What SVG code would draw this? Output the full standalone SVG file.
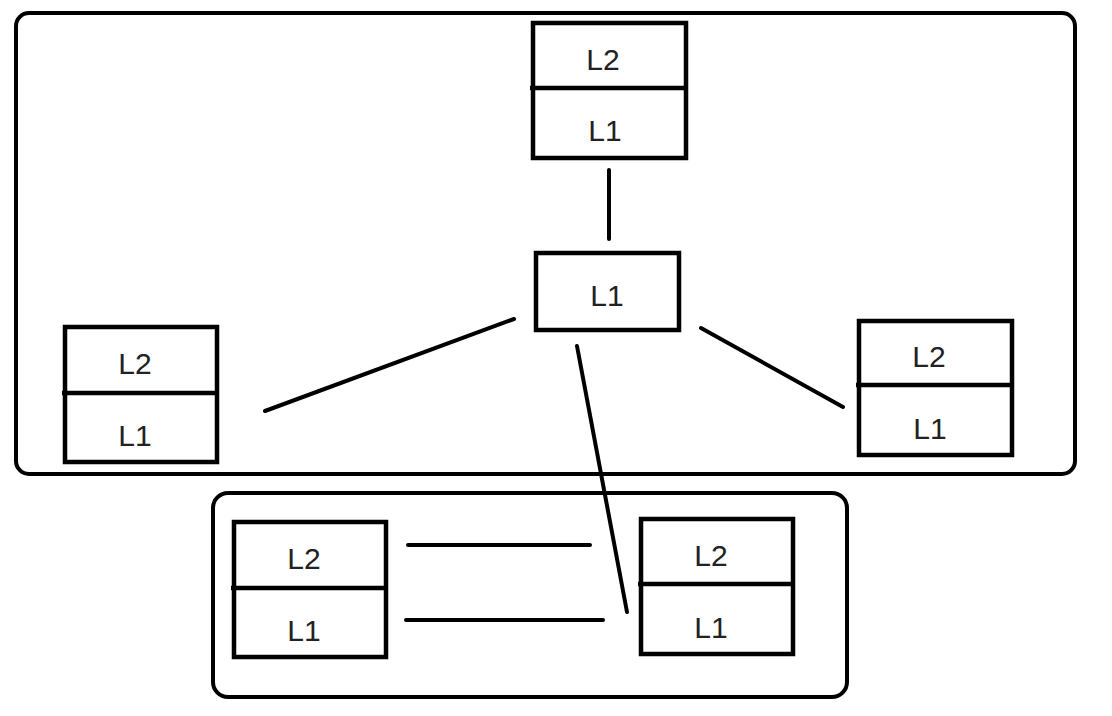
<svg xmlns="http://www.w3.org/2000/svg" width="1112" height="716" viewBox="0 0 1112 716">
<style>
.box{fill:none;stroke:#000;stroke-width:4.5}
.grp{fill:none;stroke:#000;stroke-width:4}
.div{stroke:#000;stroke-width:4.5}
.t{font-family:"Liberation Sans",Arial,sans-serif;font-size:30px;fill:#222;text-anchor:middle}
.c{stroke:#000;stroke-width:4;stroke-linecap:round}
</style>
<rect width="1112" height="716" fill="#fff"/>
<g id="group-top"><rect class="grp" x="16" y="13" width="1059" height="461" rx="13"/></g>
<g id="group-bottom"><rect class="grp" x="213" y="493" width="634" height="204" rx="15"/></g>
<g id="connectors">
<line class="c" x1="609" y1="170" x2="609" y2="239"/>
<line class="c" x1="514" y1="319" x2="265" y2="411"/>
<line class="c" x1="701" y1="328" x2="843" y2="407"/>
<line class="c" x1="577" y1="346" x2="627" y2="612"/>
<line class="c" x1="408" y1="545" x2="590" y2="545"/>
<line class="c" x1="406" y1="620" x2="603" y2="620"/>
</g>
<g id="node-top">
<rect class="box" x="533" y="23" width="153" height="135"/>
<line class="div" x1="530" y1="88" x2="686" y2="88"/>
<text class="t" x="603" y="70">L2</text>
<text class="t" x="605" y="141">L1</text>
</g>
<g id="node-center">
<rect class="box" x="536" y="253" width="143" height="77"/>
<text class="t" x="607" y="306">L1</text>
</g>
<g id="node-left">
<rect class="box" x="65" y="327" width="152" height="135"/>
<line class="div" x1="62" y1="393" x2="217" y2="393"/>
<text class="t" x="135" y="374">L2</text>
<text class="t" x="135" y="446">L1</text>
</g>
<g id="node-right">
<rect class="box" x="859" y="321" width="153" height="134"/>
<line class="div" x1="856" y1="385" x2="1012" y2="385"/>
<text class="t" x="929" y="367">L2</text>
<text class="t" x="930" y="439">L1</text>
</g>
<g id="node-bottom-left">
<rect class="box" x="234" y="522" width="152" height="135"/>
<line class="div" x1="231" y1="588" x2="386" y2="588"/>
<text class="t" x="304" y="569">L2</text>
<text class="t" x="304" y="641">L1</text>
</g>
<g id="node-bottom-right">
<rect class="box" x="641" y="519" width="152" height="135"/>
<line class="div" x1="638" y1="584" x2="793" y2="584"/>
<text class="t" x="711" y="566">L2</text>
<text class="t" x="711" y="638">L1</text>
</g>
</svg>
